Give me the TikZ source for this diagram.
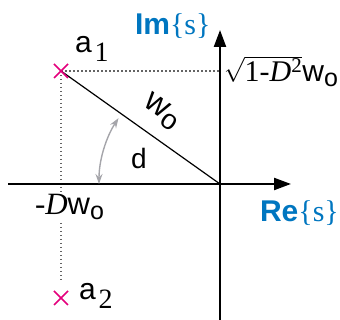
\documentclass[tikz,border=0pt]{standalone}
\usepackage{fontspec}
\setmainfont{Liberation Serif}
\setsansfont{Liberation Sans}
\usetikzlibrary{arrows.meta,calc}
\definecolor{pink}{RGB}{228,0,124}
\definecolor{reblue}{RGB}{0,118,192}
\definecolor{arcgray}{RGB}{165,165,170}
\definecolor{dotgray}{RGB}{100,100,100}
\tikzset{
  axis/.style={line width=2.2pt,-{Triangle[length=17pt,width=12pt]}},
  pole/.style={pink,line width=1.6pt},
  guide/.style={dotgray,line width=1.2pt,dash pattern=on 1.5pt off 2.5pt},
  lbl/.style={inner sep=0pt,outer sep=0pt},
}
\newcommand{\ssub}[1]{\raisebox{-9pt}{\fontsize{28}{30}\selectfont\rmfamily #1}}
\newcommand{\wo}[2]{\textsf{w}\raisebox{-#2pt}{\fontsize{#1}{#1}\selectfont\sffamily o}}
\begin{document}
\begin{tikzpicture}[x=1pt,y=1pt]
\useasboundingbox (0,0) rectangle (340,320);
\coordinate (O) at (220,136);
\coordinate (a1) at (61,249);
\coordinate (a2) at (61,22);
\coordinate (xs) at (8,136);
\coordinate (xe) at (291,136);
\coordinate (ys) at (220,0);
\coordinate (ye) at (220,290);
\coordinate (hy) at (220,249);
\coordinate (vb) at (61,37);
% guides
\draw[guide] (a1) -- (hy);
\draw[guide] (a1) -- (vb);
% label -Dwo (covers the guide)
\node[lbl,fill=white,anchor=base west,font=\fontsize{31}{33}\selectfont] (dw) at (35,105) {-\textit{D}\wo{25}{5}};
% axes
\draw[axis] (xs) -- (xe);
\draw[axis] (ys) -- (ye);
% radius line
\draw[line width=1.2pt] (a1) -- (O);
% angle arc
\draw[arcgray,line width=1.4pt,{Stealth[length=10pt,width=7pt]}-{Stealth[length=10pt,width=7pt]}]
  ($(O)+(180:121)$) arc[start angle=180,end angle=147,radius=121];
% poles
\draw[pole] ($(a1)+(-7,-7)$) -- ($(a1)+(7,7)$) ($(a1)+(-7,7)$) -- ($(a1)+(7,-7)$);
\draw[pole] ($(a2)+(-7,-7)$) -- ($(a2)+(7,7)$) ($(a2)+(-7,7)$) -- ($(a2)+(7,-7)$);
% labels
\node[lbl,anchor=base west,font=\fontsize{30}{32}\selectfont\sffamily] (la1) at (75,267) {a\hspace{3pt}\ssub{1}};
\node[lbl,anchor=base west,font=\fontsize{30}{32}\selectfont\sffamily] (la2) at (79,20) {a\hspace{3pt}\ssub{2}};
\node[lbl,anchor=base west,reblue] (im) at (135,285) {\fontsize{30}{32}\selectfont\sffamily\bfseries Im\rmfamily\mdseries\{s\}};
\node[lbl,anchor=base west,reblue] (re) at (260,98) {\fontsize{30}{32}\selectfont\sffamily\bfseries Re\rmfamily\mdseries\{s\}};
\node[lbl,anchor=base west,font=\fontsize{30}{32}\selectfont] (sq) at (224,238) {$\sqrt{\hbox{1-\textit{D}\textsuperscript{2}}}$\wo{25}{5}};
\node[lbl,font=\fontsize{28}{30}\selectfont\sffamily] (d) at (139,162) {d};
\node[lbl,rotate=-35,font=\fontsize{33}{35}\selectfont] (w) at (162,208) {\wo{28}{6}};
\end{tikzpicture}
\end{document}
